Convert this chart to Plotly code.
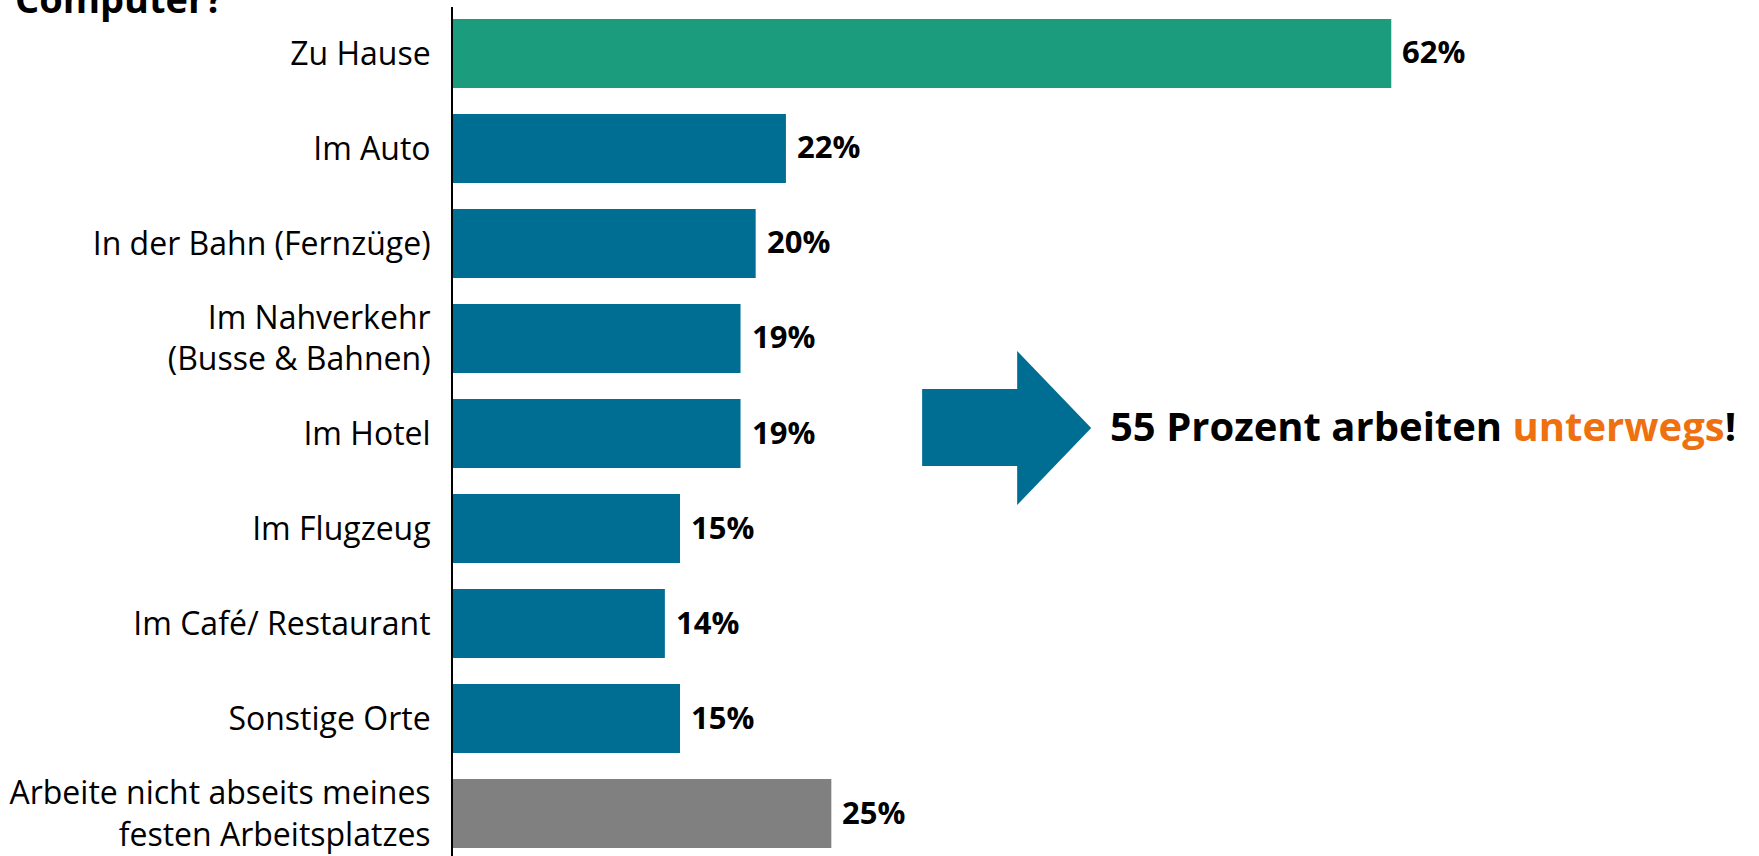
import plotly.graph_objects as go

categories = [
    "Zu Hause",
    "Im Auto",
    "In der Bahn (Fernzüge)",
    "Im Nahverkehr<br>(Busse & Bahnen)",
    "Im Hotel",
    "Im Flugzeug",
    "Im Café/ Restaurant",
    "Sonstige Orte",
    "Arbeite nicht abseits meines<br>festen Arbeitsplatzes",
]
values = [62, 22, 20, 19, 19, 15, 14, 15, 25]
value_labels = ["62%", "22%", "20%", "19%", "19%", "15%", "14%", "15%", "25%"]

GREEN = "#1A9C7D"
BLUE = "#006E93"
GREY = "#808080"
ORANGE = "#EE700F"
colors = [GREEN] + [BLUE] * 7 + [GREY]

positions = list(range(len(categories)))

fig = go.Figure()
fig.add_trace(go.Bar(
    x=values, y=positions, orientation="h",
    marker=dict(color=colors, line=dict(width=0)),
    width=0.726, hoverinfo="skip",
))

font_fam = "Open Sans"
for p, v, t in zip(positions, values, value_labels):
    fig.add_annotation(x=v, y=p, xref="x", yref="y", text=t, showarrow=False,
                       xanchor="left", yanchor="middle", xshift=9, yshift=2,
                       font=dict(family=font_fam, size=31, color="black", weight="bold"))

# arrow shape (data coordinates)
fig.add_shape(type="path", xref="x", yref="y",
              path="M 31.0 3.532 L 37.28 3.532 L 37.28 3.132 L 42.17 3.942 "
                   "L 37.28 4.753 L 37.28 4.342 L 31.0 4.342 Z",
              fillcolor=BLUE, line=dict(width=0), layer="above")

fig.add_annotation(x=43.3, y=3.942, xref="x", yref="y", showarrow=False,
                   xanchor="left", yanchor="middle", yshift=2,
                   text="55 Prozent arbeiten <span style='color:%s'>unterwegs</span>!" % ORANGE,
                   font=dict(family=font_fam, size=40, color="black", weight="bold"))

fig.add_annotation(x=(13 - 453) / 1306, y=1.0106, xref="paper", yref="paper", showarrow=False,
                   xanchor="left", yanchor="middle", text="Computer?",
                   font=dict(family=font_fam, size=38, color="black", weight="bold"))

fig.update_layout(
    width=1759, height=856,
    margin=dict(l=453, r=0, t=7, b=0, pad=0),
    paper_bgcolor="white", plot_bgcolor="white",
    showlegend=False,
    bargap=0.274,
    xaxis=dict(range=[0, 86.3], visible=False, fixedrange=True),
    yaxis=dict(range=[8.447, -0.489], tickmode="array", tickvals=positions,
               ticktext=categories, showline=True, linecolor="black", linewidth=2,
               showgrid=False, zeroline=False, ticks="", ticklabelstandoff=14,
               tickfont=dict(family=font_fam, size=32, color="black")),
)

fig.write_html("out.html")
